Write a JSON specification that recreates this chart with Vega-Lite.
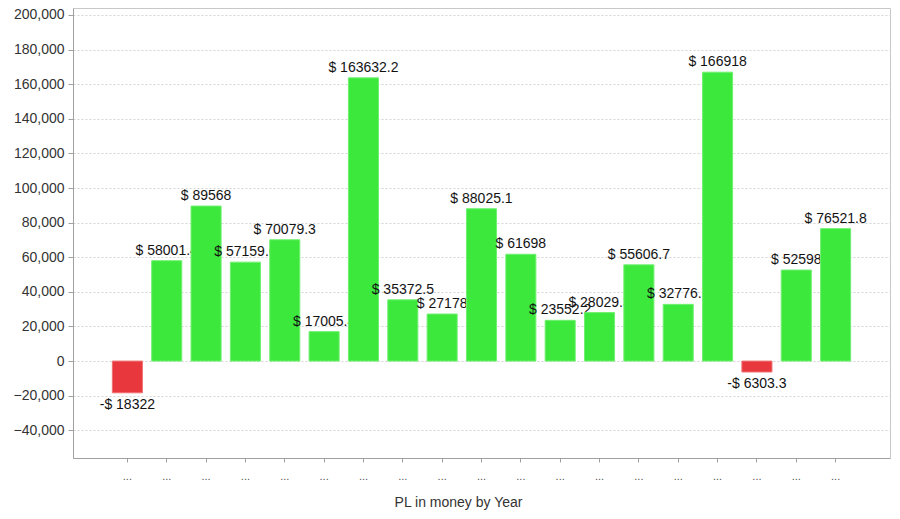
{
  "$schema": "https://vega.github.io/schema/vega-lite/v6.json",
  "autosize": "none",
  "width": 817,
  "height": 450,
  "padding": {"left": 73, "top": 8, "right": 10, "bottom": 61},
  "background": "white",
  "config": {
    "font": "Liberation Sans",
    "view": {"stroke": "#c8c8c8", "strokeWidth": 1}
  },
  "data": {
    "values": [
      {"year": "Y01", "pl": -18322},
      {"year": "Y02", "pl": 58001.4},
      {"year": "Y03", "pl": 89568},
      {"year": "Y04", "pl": 57159.6},
      {"year": "Y05", "pl": 70079.3},
      {"year": "Y06", "pl": 17005.4},
      {"year": "Y07", "pl": 163632.2},
      {"year": "Y08", "pl": 35372.5},
      {"year": "Y09", "pl": 27178},
      {"year": "Y10", "pl": 88025.1},
      {"year": "Y11", "pl": 61698},
      {"year": "Y12", "pl": 23552.2},
      {"year": "Y13", "pl": 28029.3},
      {"year": "Y14", "pl": 55606.7},
      {"year": "Y15", "pl": 32776.7},
      {"year": "Y16", "pl": 166918},
      {"year": "Y17", "pl": -6303.3},
      {"year": "Y18", "pl": 52598},
      {"year": "Y19", "pl": 76521.8}
    ]
  },
  "transform": [
    {"calculate": "(datum.pl < 0 ? '-$ ' : '$ ') + abs(datum.pl)", "as": "label"}
  ],
  "encoding": {
    "x": {
      "field": "year",
      "type": "nominal",
      "scale": {
        "domain": ["Y01","Y02","Y03","Y04","Y05","Y06","Y07","Y08","Y09","Y10","Y11","Y12","Y13","Y14","Y15","Y16","Y17","Y18","Y19"],
        "paddingInner": 0.236, "paddingOuter": 1.02
      },
      "axis": {
        "title": "PL in money by Year",
        "titleFont": "Liberation Sans",
        "titleFontSize": 14,
        "titleFontWeight": "normal",
        "titleColor": "#333333",
        "titlePadding": 14,
        "titleX": 385,
        "labelExpr": "'...'",
        "labelAngle": 0,
        "labelFontSize": 11,
        "labelColor": "#555555",
        "labelPadding": 8,
        "tickSize": 4,
        "tickColor": "#a0a0a0",
        "domainColor": "#a0a0a0",
        "grid": false
      }
    },
    "y": {
      "field": "pl",
      "type": "quantitative",
      "scale": {"domain": [-56000, 204000], "nice": false, "zero": false},
      "axis": {
        "title": null,
        "values": [-40000, -20000, 0, 20000, 40000, 60000, 80000, 100000, 120000, 140000, 160000, 180000, 200000],
        "format": ",d",
        "labelFont": "Liberation Sans",
        "labelFontSize": 14,
        "labelColor": "#333333",
        "labelPadding": 4,
        "tickSize": 5,
        "tickColor": "#a0a0a0",
        "domainColor": "#a0a0a0",
        "grid": true,
        "gridColor": "#d4d4d4",
        "gridDash": [2, 2]
      }
    }
  },
  "layer": [
    {
      "transform": [{"filter": "datum.pl >= 0"}],
      "mark": {
        "type": "text", "baseline": "alphabetic", "dy": -6, "fontSize": 14, "font": "Liberation Sans",
        "fill": {
          "gradient": "linear", "x1": 0, "y1": 0, "x2": 1, "y2": 0,
          "stops": [
            {"offset": 0, "color": "transparent"},
            {"offset": 0.165, "color": "transparent"},
            {"offset": 0.166, "color": "#111111"},
            {"offset": 1, "color": "#111111"}
          ]
        }
      },
      "encoding": {"text": {"field": "label"}}
    },
    {
      "transform": [{"filter": "datum.pl < 0"}],
      "mark": {"type": "text", "baseline": "top", "dy": 5, "fontSize": 14, "color": "#111111", "font": "Liberation Sans"},
      "encoding": {"text": {"field": "label"}}
    },
    {
      "mark": {"type": "bar", "strokeWidth": 1},
      "encoding": {
        "y2": {"datum": 0},
        "color": {
          "condition": {"test": "datum.pl < 0", "value": "#e8383d"},
          "value": "#3de83d"
        },
        "stroke": {
          "condition": {"test": "datum.pl < 0", "value": "#f07070"},
          "value": "#70f070"
        }
      }
    },
    {
      "transform": [{"filter": "datum.pl >= 0"}],
      "mark": {
        "type": "text", "baseline": "alphabetic", "dy": -6, "fontSize": 14, "font": "Liberation Sans",
        "fill": {
          "gradient": "linear", "x1": 0, "y1": 0, "x2": 1, "y2": 0,
          "stops": [
            {"offset": 0, "color": "#111111"},
            {"offset": 0.165, "color": "#111111"},
            {"offset": 0.166, "color": "transparent"},
            {"offset": 1, "color": "transparent"}
          ]
        }
      },
      "encoding": {"text": {"field": "label"}}
    }
  ]
}
